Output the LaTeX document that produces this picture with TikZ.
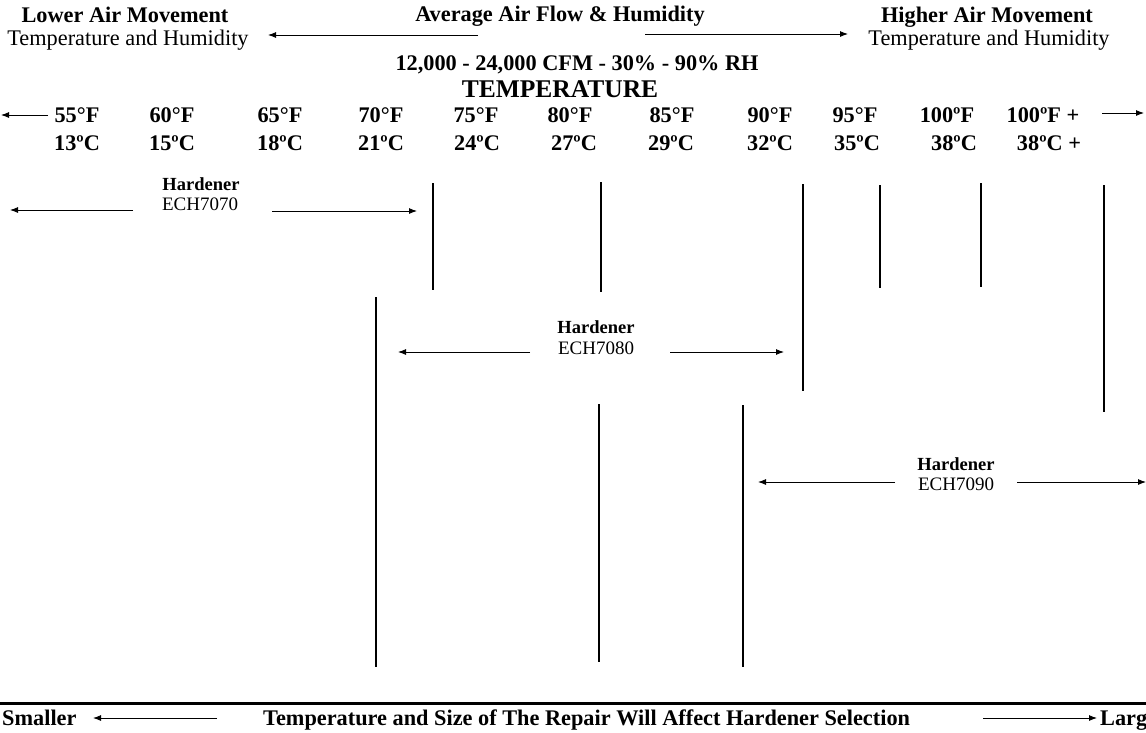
\documentclass[tikz,border=0pt]{standalone}
\usepackage{fontspec}
\setmainfont{Liberation Serif}
\usetikzlibrary{arrows.meta}
\begin{document}
\begin{tikzpicture}[x=1pt,y=-1pt,
  lbl/.style={inner sep=0pt,anchor=base,font=\fontsize{22.3}{25}\selectfont},
  blbl/.style={lbl,font=\fontsize{22.3}{25}\selectfont\bfseries},
  hlbl/.style={inner sep=0pt,anchor=base,font=\fontsize{18.5}{21}\selectfont\bfseries},
  elbl/.style={inner sep=0pt,anchor=base,font=\fontsize{19}{21}\selectfont},
  botlbl/.style={inner sep=0pt,anchor=base west,font=\fontsize{22.3}{25}\selectfont\bfseries},
  arr/.style={line width=0.9pt,-{Latex[length=8pt,width=6pt]}},
  vline/.style={line width=1.1pt}]
\useasboundingbox (0,0) rectangle (1146,732);
% top headings
\node[blbl] (low) at (125,22) {Lower Air Movement};
\node[lbl] (lowsub) at (128,45) {Temperature and Humidity};
\node[blbl] (avg) at (560,21) {Average Air Flow \& Humidity};
\node[blbl] (high) at (987,22) {Higher Air Movement};
\node[lbl] (highsub) at (989,45) {Temperature and Humidity};
\coordinate (al1) at (478,35); \coordinate (al2) at (268,35);
\coordinate (ar1) at (645,34); \coordinate (ar2) at (848,34);
\draw[arr] (al1) -- (al2);
\draw[arr] (ar1) -- (ar2);
\node[blbl] (cfm) at (577,70) {12,000 - 24,000 CFM - 30\% - 90\% RH};
\node[inner sep=0pt,anchor=base,font=\fontsize{25.5}{28}\selectfont\bfseries] (temp) at (560,97) {TEMPERATURE};
% temperature rows
\foreach \x/\t [count=\i] in {77/55°F,172/60°F,280/65°F,381/70°F,476/75°F,570/80°F,672/85°F,770/90°F,855/95°F,947/100ºF,1043/100ºF +}
  \node[blbl] (f\i) at (\x,122) {\t};
\foreach \x/\t [count=\i] in {77/13ºC,172/15ºC,280/18ºC,381/21ºC,477/24ºC,574/27ºC,671/29ºC,770/32ºC,857/35ºC,954/38ºC,1049/38ºC +}
  \node[blbl] (c\i) at (\x,150) {\t};
\coordinate (fl1) at (48,115); \coordinate (fl2) at (1,115);
\coordinate (fr1) at (1102,113); \coordinate (fr2) at (1144,113);
\draw[arr] (fl1) -- (fl2);
\draw[arr] (fr1) -- (fr2);
% Hardener ECH7070
\node[hlbl] (h1) at (201,190) {Hardener};
\node[elbl] (e1) at (200,210) {ECH7070};
\coordinate (h1l1) at (133,210); \coordinate (h1l2) at (10,210);
\coordinate (h1r1) at (272,211); \coordinate (h1r2) at (417,211);
\draw[arr] (h1l1) -- (h1l2);
\draw[arr] (h1r1) -- (h1r2);
% Hardener ECH7080
\node[hlbl] (h2) at (596,333) {Hardener};
\node[elbl] (e2) at (596,354) {ECH7080};
\coordinate (h2l1) at (530,352); \coordinate (h2l2) at (398,352);
\coordinate (h2r1) at (670,352); \coordinate (h2r2) at (784,352);
\draw[arr] (h2l1) -- (h2l2);
\draw[arr] (h2r1) -- (h2r2);
% Hardener ECH7090
\node[hlbl] (h3) at (956,470) {Hardener};
\node[elbl] (e3) at (956,490) {ECH7090};
\coordinate (h3l1) at (895,482); \coordinate (h3l2) at (758,482);
\coordinate (h3r1) at (1017,482); \coordinate (h3r2) at (1146,482);
\draw[arr] (h3l1) -- (h3l2);
\draw[arr] (h3r1) -- (h3r2);
% vertical lines
\foreach \x/\a/\b [count=\i] in {433/183/290,601/182/292,803/184/391,880/185/288,981/183/287,1104/185/412,376/297/667,599/404/662,743/405/667}{
  \coordinate (vt\i) at (\x,\a); \coordinate (vb\i) at (\x,\b);
  \draw[vline] (vt\i) -- (vb\i);
}
% bottom rule
\coordinate (bl) at (0,703); \coordinate (br) at (1146,703);
\draw[line width=3pt] (bl) -- (br);
\node[botlbl] (small) at (2,725) {Smaller};
\node[botlbl] (sel) at (263,725) {Temperature and Size of The Repair Will Affect Hardener Selection};
\node[botlbl] (large) at (1100,725) {Larger};
\coordinate (bl1) at (217,718); \coordinate (bl2) at (93,718);
\coordinate (br1) at (983,718); \coordinate (br2) at (1097,718);
\draw[arr] (bl1) -- (bl2);
\draw[arr] (br1) -- (br2);
\end{tikzpicture}
\end{document}
